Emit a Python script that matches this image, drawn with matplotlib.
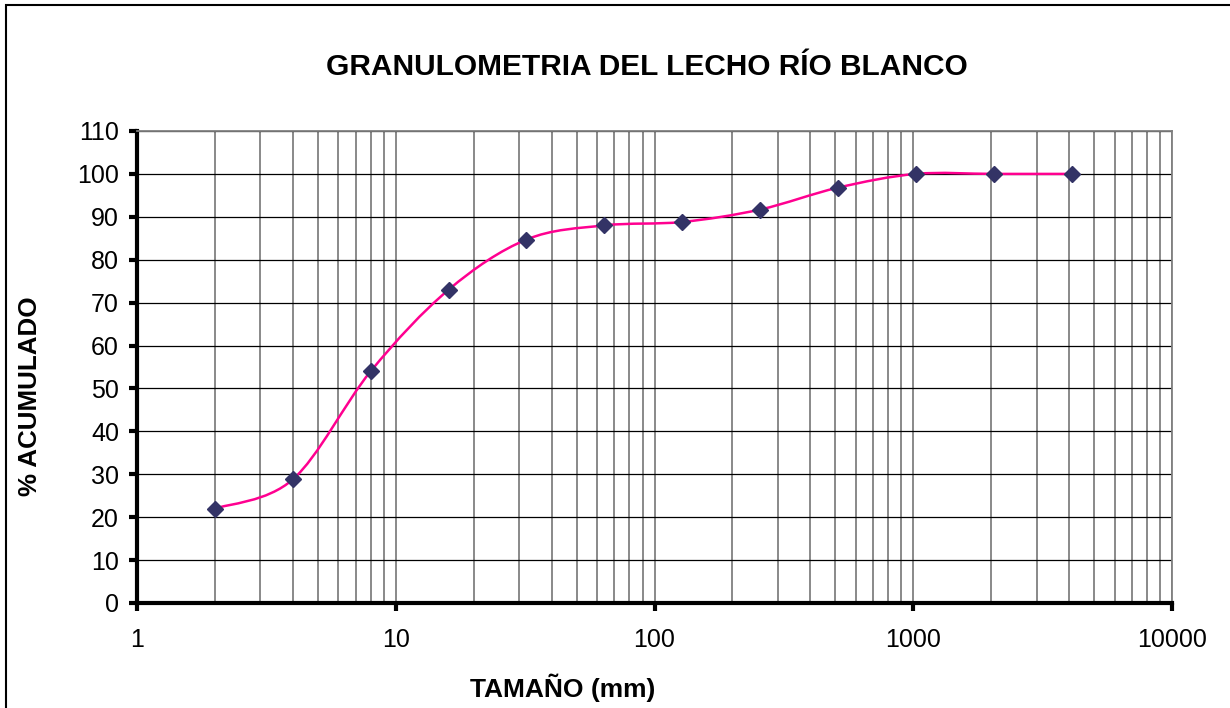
import numpy as np
import matplotlib
matplotlib.use("Agg")
import matplotlib.pyplot as plt
from matplotlib.path import Path
from matplotlib.patches import PathPatch, Rectangle
from matplotlib.ticker import FixedLocator, NullFormatter

# datos de la curva granulometrica
tamano_mm = [2, 4, 8, 16, 32, 64, 128, 256, 512, 1024, 2048, 4096]
pct_acumulado = [22, 28.8, 54, 73, 84.7, 88, 88.8, 91.7, 96.8, 100, 100, 100]

titulo = "GRANULOMETRIA DEL LECHO RÍO BLANCO"
xlabel = "TAMAÑO (mm)"
ylabel = "% ACUMULADO"
xticks = [1, 10, 100, 1000, 10000]
yticks = list(range(0, 111, 10))

plt.rcParams['font.family'] = ['Liberation Sans', 'DejaVu Sans']


def excel_smooth_path(xs, ys):
    # curva suavizada tipo Excel (Bezier) calculada en espacio log10(x)
    lx = np.log10(xs)
    y = np.asarray(ys, dtype=float)
    n = len(lx)
    verts = [(lx[0], y[0])]
    codes = [Path.MOVETO]
    for i in range(n - 1):
        p0 = (lx[max(i - 1, 0)], y[max(i - 1, 0)])
        p1 = (lx[i], y[i])
        p2 = (lx[i + 1], y[i + 1])
        p3 = (lx[min(i + 2, n - 1)], y[min(i + 2, n - 1)])
        c1 = (p1[0] + (p2[0] - p0[0]) / 6, p1[1] + (p2[1] - p0[1]) / 6)
        c2 = (p2[0] - (p3[0] - p1[0]) / 6, p2[1] - (p3[1] - p1[1]) / 6)
        verts += [c1, c2, p2]
        codes += [Path.CURVE4] * 3
    verts = np.array(verts)
    verts[:, 0] = 10 ** verts[:, 0]
    return Path(verts, codes)


fig = plt.figure(figsize=(12.3, 7.08), dpi=100)
ax = fig.add_axes([137 / 1230, 1 - 603 / 708, (1172 - 137) / 1230, (603 - 131) / 708])

ax.set_xscale('log')
ax.set_xlim(1, 10000)
ax.set_ylim(0, 110)

# rejilla
ax.xaxis.set_major_locator(FixedLocator(xticks))
ax.set_xticklabels([str(t) for t in xticks])
minor = [m * 10 ** d for d in range(0, 4) for m in range(2, 10)]
ax.xaxis.set_minor_locator(FixedLocator(minor))
ax.xaxis.set_minor_formatter(NullFormatter())
ax.set_yticks(yticks)
ax.grid(True, which='both', axis='x', color='#808080', lw=1.3)
ax.grid(True, which='major', axis='y', color='black', lw=0.9)
ax.set_axisbelow(True)

for s in ['top', 'right']:
    ax.spines[s].set_color('#808080')
    ax.spines[s].set_linewidth(1.3)
for s in ['left', 'bottom']:
    ax.spines[s].set_linewidth(3)
    ax.spines[s].set_capstyle('projecting')

ax.tick_params(axis='both', which='major', direction='out', length=6, width=3,
               labelsize=18, pad=7)
ax.tick_params(axis='x', which='minor', length=0)
ax.tick_params(axis='x', which='major', pad=12)

curva = PathPatch(excel_smooth_path(tamano_mm, pct_acumulado), facecolor='none',
                  edgecolor='#FF0090', lw=1.8, transform=ax.transData, zorder=3)
ax.add_patch(curva)
ax.plot(tamano_mm, pct_acumulado, linestyle='none', marker='D', ms=8.5,
        color='#333366', zorder=4, clip_on=False)

fig.text(647 / 1230, 1 - 67 / 708, titulo, ha='center', va='center',
         fontsize=21.5, fontweight='bold')
fig.text(563 / 1230, 1 - 688 / 708, xlabel, ha='center', va='center',
         fontsize=19, fontweight='bold')
fig.text(30 / 1230, 1 - 396 / 708, ylabel, ha='center', va='center',
         fontsize=18.7, fontweight='bold', rotation=90)

# marco exterior del grafico
fig.patches.append(Rectangle((6 / 1230, -0.05), 1.2, 1 - 5 / 708 + 0.05,
                             transform=fig.transFigure, fill=False,
                             edgecolor='black', lw=1.5))

fig.savefig('out.png', dpi=100)
